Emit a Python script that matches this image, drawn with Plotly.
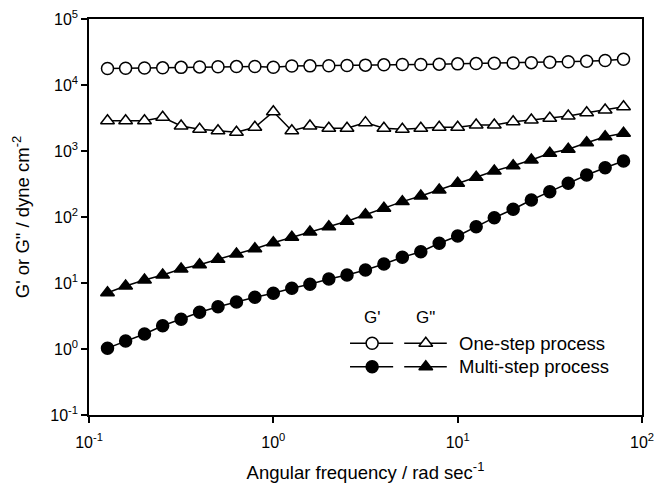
import plotly.graph_objects as go

# Angular frequency sweep (rad/s), 10 points per decade
freq = [0.126, 0.158, 0.200, 0.251, 0.316, 0.398, 0.501, 0.631, 0.794, 1.00,
        1.26, 1.58, 2.00, 2.51, 3.16, 3.98, 5.01, 6.31, 7.94, 10.0,
        12.6, 15.8, 20.0, 25.1, 31.6, 39.8, 50.1, 63.1, 79.4]

# Storage modulus G' and loss modulus G'' (dyne/cm^2)
g1_one = [17800, 17900, 18100, 18200, 18500, 18800, 18900, 19000, 19100, 18600,
          19400, 19500, 19600, 19800, 20000, 20200, 20400, 20500, 20700, 20900,
          21100, 21300, 21500, 21800, 22100, 22500, 22900, 23500, 24500]
g2_one = [2880, 2880, 2880, 3240, 2390, 2130, 2030, 1920, 2290, 3940,
          2030, 2390, 2210, 2210, 2690, 2210, 2130, 2210, 2290, 2290,
          2480, 2480, 2780, 2950, 3130, 3390, 3800, 4180, 4690]
g1_multi = [1.03, 1.32, 1.69, 2.25, 2.82, 3.60, 4.37, 5.16, 6.07, 6.98,
            8.31, 9.56, 11.5, 13.2, 15.7, 19.4, 24.5, 29.8, 40.0, 51.6,
            71.3, 97.6, 131, 181, 242, 324, 433, 558, 705]
g2_multi = [7.1, 9.0, 11.1, 13.2, 16.3, 18.9, 22.9, 27.5, 33.1, 40.8,
            49.2, 59.3, 71.3, 86.1, 108, 136, 171, 208, 257, 324,
            400, 498, 599, 731, 922, 1061, 1336, 1648, 1854]

# Decade ticks
x_tickvals = [0.1, 1, 10, 100]
x_ticktext = ["10<sup>-1</sup>", "10<sup>0</sup>", "10<sup>1</sup>", "10<sup>2</sup>"]
y_tickvals = [0.1, 1, 10, 100, 1000, 10000, 100000]
y_ticktext = ["10<sup>-1</sup>", "10<sup>0</sup>", "10<sup>1</sup>", "10<sup>2</sup>",
              "10<sup>3</sup>", "10<sup>4</sup>", "10<sup>5</sup>"]

series_labels = ["One-step process", "Multi-step process"]
column_labels = ["G'", 'G"']

FONT = "Liberation Sans, Arial, sans-serif"
LINE = dict(color="black", width=1.5)

def style(symbol, filled, size):
    return dict(symbol=symbol, size=size,
                color="black" if filled else "white",
                line=dict(color="black", width=1.5))

fig = go.Figure()
fig.add_trace(go.Scatter(x=freq, y=g1_one, mode="lines+markers", line=LINE,
                         marker=style("circle", False, 12), showlegend=False))
fig.add_trace(go.Scatter(x=freq, y=g2_one, mode="lines+markers", line=LINE,
                         marker=style("triangle-up", False, 12), showlegend=False))
fig.add_trace(go.Scatter(x=freq, y=g2_multi, mode="lines+markers", line=LINE,
                         marker=style("triangle-up", True, 12), showlegend=False))
fig.add_trace(go.Scatter(x=freq, y=g1_multi, mode="lines+markers", line=LINE,
                         marker=style("circle", True, 12), showlegend=False))

# Legend key drawn on an overlay axis spanning the plot area (0..1)
key_rows = [0.181, 0.122]
key_cols = [(0.472, 0.512, 0.550, "circle"), (0.570, 0.609, 0.647, "triangle-up")]
for r, (yk, filled) in enumerate(zip(key_rows, [False, True])):
    for x0, xm, x1, sym in key_cols:
        fig.add_trace(go.Scatter(x=[x0, x1], y=[yk, yk], mode="lines", line=LINE,
                                 xaxis="x2", yaxis="y2", showlegend=False,
                                 hoverinfo="skip"))
        fig.add_trace(go.Scatter(x=[xm], y=[yk], mode="markers",
                                 marker=style(sym, filled, 12),
                                 xaxis="x2", yaxis="y2", showlegend=False,
                                 hoverinfo="skip"))
    fig.add_annotation(x=0.665, y=yk, xref="x2", yref="y2", text=series_labels[r],
                       showarrow=False, xanchor="left", yanchor="middle",
                       font=dict(family=FONT, size=18.5, color="black"))
for (x0, xm, x1, sym), lab in zip(key_cols, column_labels):
    fig.add_annotation(x=xm, y=0.245, xref="x2", yref="y2", text=lab,
                       showarrow=False, xanchor="center", yanchor="middle",
                       font=dict(family=FONT, size=17, color="black"))

axis_common = dict(type="log", showgrid=False, zeroline=False, showline=True,
                   linecolor="black", linewidth=1.5, mirror=True, automargin=False,
                   ticks="outside", ticklen=6, tickwidth=1.5, tickcolor="black",
                   tickfont=dict(family=FONT, size=16, color="black"))

fig.update_layout(
    width=668, height=483,
    margin=dict(l=89, r=26, t=19, b=68),
    paper_bgcolor="white", plot_bgcolor="white",
    font=dict(family=FONT, color="black"),
    xaxis=dict(range=[-1, 2], tickvals=x_tickvals, ticktext=x_ticktext,
               ticklabelstandoff=6,
               title=dict(text="Angular frequency / rad sec<sup>-1</sup>",
                          font=dict(family=FONT, size=18.5), standoff=18),
               **axis_common),
    yaxis=dict(range=[-1, 5], tickvals=y_tickvals, ticktext=y_ticktext,
               title=dict(text='G\' or G" / dyne cm<sup>-2</sup>',
                          font=dict(family=FONT, size=18.5), standoff=16),
               **axis_common),
    xaxis2=dict(range=[0, 1], overlaying="x", visible=False),
    yaxis2=dict(range=[0, 1], overlaying="y", visible=False),
)

fig.write_html("out.html")
